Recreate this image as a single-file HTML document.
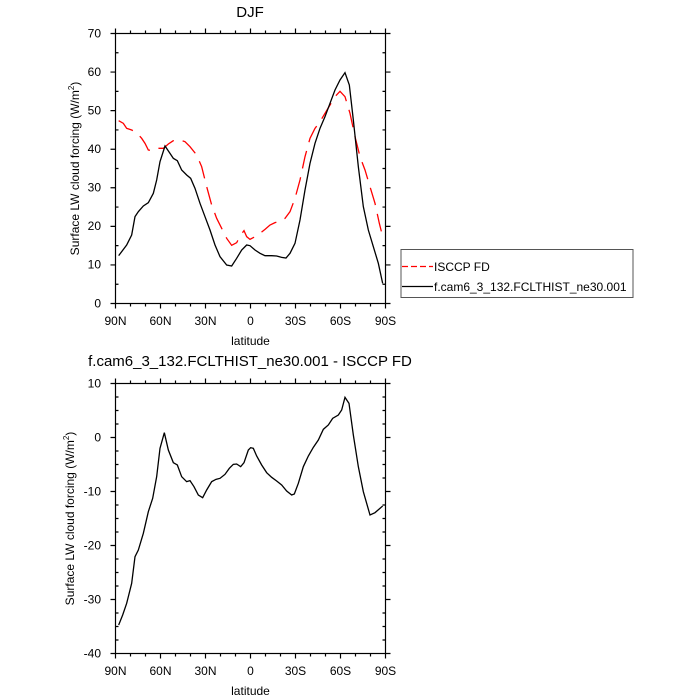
<!DOCTYPE html>
<html><head><style>body{margin:0;background:#fff}svg{display:block}text{font-family:"Liberation Sans",sans-serif;fill:#000}</style></head>
<body>
<svg width="700" height="700" viewBox="0 0 700 700" xmlns="http://www.w3.org/2000/svg">
<g id="axes" stroke="#000" stroke-width="1.2" fill="none">
<rect x="115.5" y="33.5" width="270" height="270"/>
<rect x="115.5" y="383.5" width="270" height="270"/>
<path id="tk"/>
</g>
<script>
(function(){
var s='';
[[33.5,303.5],[383.5,653.5]].forEach(function(b,bi){
 for(var i=0;i<=18;i++){var x=115.5+i*15;var L=(i%3==0)?5:3;s+='M'+x+' '+b[0]+'v-'+L+'M'+x+' '+b[1]+'v'+L;}
 var n=bi==0?14:20, st=270/n, maj=bi==0?2:4;
 for(var j=0;j<=n;j++){var y=b[0]+j*st;
  if(j%maj==0){s+='M115.5 '+y+'h-5M385.5 '+y+'h5';}else{s+='M115.5 '+y+'h3M385.5 '+y+'h-3';}}
});
document.getElementById('tk').setAttribute('d',s);
})();
</script>
<g fill="none" stroke-width="1.3">
<g transform="translate(90,20) scale(0.3333333)">
<polyline vector-effect="non-scaling-stroke" stroke="#f00" stroke-dasharray="18,9" points="86,302 100,310 110,325 125,330 140,338 155,355 165,370 175,390 190,392 205,385 220,385 235,372 250,362 270,360 285,365 300,380 320,405 335,440 350,500 365,555 380,595 395,625 410,655 425,676 440,668 452,645 462,632 470,650 480,658 495,650 510,640 525,628 540,615 555,608 570,604 585,595 600,575 615,535 630,480 645,410 660,355 675,325 690,305 705,280 720,255 735,230 750,214 765,230 780,280 795,350 810,410 825,450 840,500 855,550 868,610 878,650"/>
<polyline vector-effect="non-scaling-stroke" stroke="#000" points="86,707 110,675 125,645 135,590 145,575 160,558 175,548 190,520 200,480 210,425 225,378 240,400 250,415 262,422 275,450 290,465 302,475 315,505 330,550 345,590 360,630 375,675 390,710 410,735 425,738 440,715 455,690 470,675 480,677 495,690 510,700 525,707 545,707 560,708 575,712 588,714 600,700 615,670 630,600 645,510 660,430 675,370 690,325 705,290 720,250 735,210 750,180 765,158 778,195 790,300 805,440 820,560 835,630 850,680 865,730 878,790"/>
</g>
<g transform="translate(90,370) scale(0.3333333)">
<polyline vector-effect="non-scaling-stroke" stroke="#000" points="86,765 98,735 110,700 125,640 135,560 145,540 160,490 175,425 188,385 200,320 210,235 223,188 235,240 250,278 262,285 275,320 290,335 300,332 312,350 325,375 338,383 350,360 365,335 378,328 390,325 405,313 418,295 430,283 440,282 452,290 462,278 475,240 482,233 490,235 500,258 515,285 530,308 545,322 560,333 575,345 590,363 605,375 613,372 625,340 640,290 655,258 670,232 685,210 700,178 715,165 728,145 745,135 755,120 765,82 777,100 790,195 805,290 820,365 840,435 855,428 878,408"/>
</g>
</g>
<rect x="401" y="249.5" width="232" height="48" fill="none" stroke="#555" stroke-width="1"/>
<line x1="402" y1="266.5" x2="433" y2="266.5" stroke="#f00" stroke-width="1.3" stroke-dasharray="6,3"/>
<line x1="402" y1="286.5" x2="433" y2="286.5" stroke="#000" stroke-width="1.3"/>
<text x="434" y="271" font-size="12">ISCCP FD</text>
<text x="434" y="291" font-size="12">f.cam6_3_132.FCLTHIST_ne30.001</text>
<text x="250" y="17" font-size="15" text-anchor="middle">DJF</text>
<text x="250" y="366" font-size="15" text-anchor="middle">f.cam6_3_132.FCLTHIST_ne30.001 - ISCCP FD</text>
<g font-size="12" text-anchor="end">
<text x="101" y="37.5">70</text><text x="101" y="76">60</text><text x="101" y="114.5">50</text><text x="101" y="153">40</text><text x="101" y="191.5">30</text><text x="101" y="230">20</text><text x="101" y="268.5">10</text><text x="101" y="307.5">0</text>
<text x="101" y="387.5">10</text><text x="101" y="441.5">0</text><text x="101" y="495.5">-10</text><text x="101" y="549.5">-20</text><text x="101" y="603.5">-30</text><text x="101" y="657.5">-40</text>
</g>
<g font-size="12" text-anchor="middle">
<text x="115.5" y="325">90N</text><text x="160.5" y="325">60N</text><text x="205.5" y="325">30N</text><text x="250.5" y="325">0</text><text x="295.5" y="325">30S</text><text x="340.5" y="325">60S</text><text x="385.5" y="325">90S</text>
<text x="250.5" y="345">latitude</text>
<text x="115.5" y="675">90N</text><text x="160.5" y="675">60N</text><text x="205.5" y="675">30N</text><text x="250.5" y="675">0</text><text x="295.5" y="675">30S</text><text x="340.5" y="675">60S</text><text x="385.5" y="675">90S</text>
<text x="250.5" y="695">latitude</text>
<text transform="translate(79,168.5) rotate(-90)">Surface LW cloud forcing (W/m<tspan font-size="8" dy="-5">2</tspan><tspan dy="5">)</tspan></text>
<text transform="translate(74,518.5) rotate(-90)">Surface LW cloud forcing (W/m<tspan font-size="8" dy="-5">2</tspan><tspan dy="5">)</tspan></text>
</g>
</svg>
</body></html>
